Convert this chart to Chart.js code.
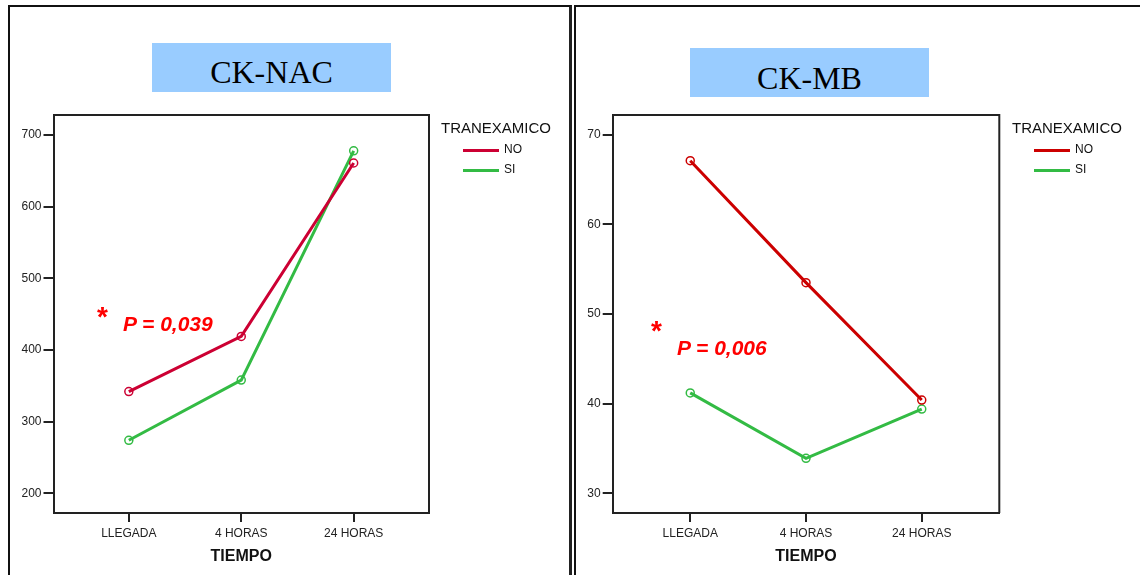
<!DOCTYPE html>
<html lang="es">
<head>
  <meta charset="UTF-8">
  <title>CK-NAC / CK-MB</title>
  <script src="https://cdn.jsdelivr.net/npm/chart.js"></script>
  <style>
    body { margin: 0; background: #fff; font-family: "Liberation Sans", Arial, sans-serif; }
    #page { position: relative; width: 1140px; height: 575px; overflow: hidden; }
    .panel { position: absolute; top: 5px; height: 600px; box-sizing: border-box; }
    #p1 { left: 8px; width: 564px; border-left: 2px solid #111; border-top: 2px solid #111; border-right: 3px solid #222; }
    #p2 { left: 574px; width: 580px; border-left: 2px solid #111; border-top: 2px solid #111; }
    canvas { position: absolute; top: 0; }
    .titlebox { position: absolute; background: #99ccff; color: #000; font-family: "Liberation Serif", "Times New Roman", serif;
                font-size: 32px; text-align: center; }
    .legend { position: absolute; color: #111; }
    .legend .head { font-size: 15px; margin-bottom: 5px; }
    .legend .item { position: relative; height: 20px; font-size: 12px; }
    .legend .item span.ln { position: absolute; left: 22px; top: 8px; width: 36px; height: 3px; }
    .legend .item span.tx { position: absolute; left: 63px; top: 1px; }
    .note { position: absolute; color: #ff0000; font-weight: bold; }
    .note .star { position: absolute; font-size: 28px; font-style: normal; }
    .note .p { position: absolute; font-size: 21px; font-style: italic; white-space: nowrap; }
  </style>
</head>
<body>
<div id="page">
  <div class="panel" id="p1"></div>
  <div class="panel" id="p2"></div>
  <canvas id="nacChart" width="560" height="575" style="left:8px"></canvas>
  <canvas id="mbChart" width="560" height="575" style="left:574px"></canvas>

  <div class="titlebox" style="left:152px; top:43px; width:239px; height:49px; line-height:58px;">CK-NAC</div>
  <div class="titlebox" style="left:690px; top:48px; width:239px; height:49px; line-height:61px;">CK-MB</div>

  <div class="legend" id="leg1" style="left:441px; top:119px;"></div>
  <div class="legend" id="leg2" style="left:1012px; top:119px;"></div>

  <div class="note" style="left:0; top:0;">
    <span class="star" style="left:97px; top:301px;">*</span>
    <span class="p" style="left:123px; top:312px;">P = 0,039</span>
  </div>
  <div class="note" style="left:0; top:0;">
    <span class="star" style="left:651px; top:315px;">*</span>
    <span class="p" style="left:677px; top:336px;">P = 0,006</span>
  </div>
</div>

<script>
  // datos
  const tiempos = ['LLEGADA', '4 HORAS', '24 HORAS'];
  const grupos = ['NO', 'SI'];

  const nacNo = [342, 419, 661];
  const nacSi = [274, 358, 678];
  const nacTicks = [200, 300, 400, 500, 600, 700];

  const mbNo = [67.1, 53.5, 40.4];
  const mbSi = [41.2, 33.9, 39.4];
  const mbTicks = [30, 40, 50, 60, 70];

  const rojoNac = '#cc0033';
  const rojoMb = '#cc0000';
  const verde = '#33bb44';

  // marco del área del gráfico (arriba y derecha)
  const boxPlugin = {
    id: 'box',
    afterDraw(chart) {
      const a = chart.chartArea, ctx = chart.ctx;
      ctx.save();
      ctx.strokeStyle = '#222';
      ctx.lineWidth = 2;
      ctx.beginPath();
      ctx.moveTo(a.left, a.top);
      ctx.lineTo(a.right, a.top);
      ctx.lineTo(a.right, a.bottom);
      ctx.stroke();
      ctx.restore();
    }
  };

  function serie(label, values, color) {
    return {
      label: label,
      data: values.map((v, i) => ({ x: i, y: v })),
      borderColor: color,
      borderWidth: 3,
      pointRadius: 4,
      pointBorderWidth: 1.5,
      pointBorderColor: color,
      pointBackgroundColor: 'rgba(0,0,0,0)',
      pointHoverRadius: 4,
      tension: 0
    };
  }

  function makeChart(id, datasets, yMin, yMax, yTicks, yWidth, padRight) {
    return new Chart(document.getElementById(id), {
      type: 'line',
      data: { datasets: datasets },
      plugins: [boxPlugin],
      options: {
        responsive: false,
        animation: false,
        layout: { padding: { left: 0, top: 115, right: padRight, bottom: 0 } },
        plugins: { legend: { display: false }, tooltip: { enabled: false } },
        scales: {
          x: {
            type: 'linear',
            min: -0.67,
            max: 2.67,
            afterBuildTicks: s => { s.ticks = tiempos.map((t, i) => ({ value: i })); },
            afterFit: s => { s.height = 62; },
            ticks: {
              callback: v => tiempos[v],
              color: '#222',
              padding: 4,
              font: { family: 'Liberation Sans', size: 12 }
            },
            grid: { drawOnChartArea: false, drawTicks: true, tickLength: 9, color: '#222', lineWidth: 2 },
            border: { color: '#222', width: 2 },
            title: {
              display: true,
              text: 'TIEMPO',
              color: '#111',
              padding: { top: 0, bottom: 9 },
              font: { family: 'Liberation Sans', size: 16, weight: 'bold' }
            }
          },
          y: {
            min: yMin,
            max: yMax,
            afterBuildTicks: s => { s.ticks = yTicks.map(v => ({ value: v })); },
            afterFit: s => { s.width = yWidth; },
            ticks: {
              color: '#222',
              padding: 2,
              font: { family: 'Liberation Sans', size: 12 }
            },
            grid: { drawOnChartArea: false, drawTicks: true, tickLength: 10, color: '#222', lineWidth: 2 },
            border: { color: '#222', width: 2 }
          }
        }
      }
    });
  }

  makeChart('nacChart', [serie('NO', nacNo, rojoNac), serie('SI', nacSi, verde)],
            172.5, 728, nacTicks, 45.5, 139);
  makeChart('mbChart', [serie('NO', mbNo, rojoMb), serie('SI', mbSi, verde)],
            27.8, 72.2, mbTicks, 38.7, 134.7);

  // leyendas
  function legend(id, colors) {
    const el = document.getElementById(id);
    let html = '<div class="head">TRANEXAMICO</div>';
    grupos.forEach((g, i) => {
      html += '<div class="item"><span class="ln" style="background:' + colors[i] + '"></span><span class="tx">' + g + '</span></div>';
    });
    el.innerHTML = html;
  }
  legend('leg1', [rojoNac, verde]);
  legend('leg2', [rojoMb, verde]);
</script>
</body>
</html>
